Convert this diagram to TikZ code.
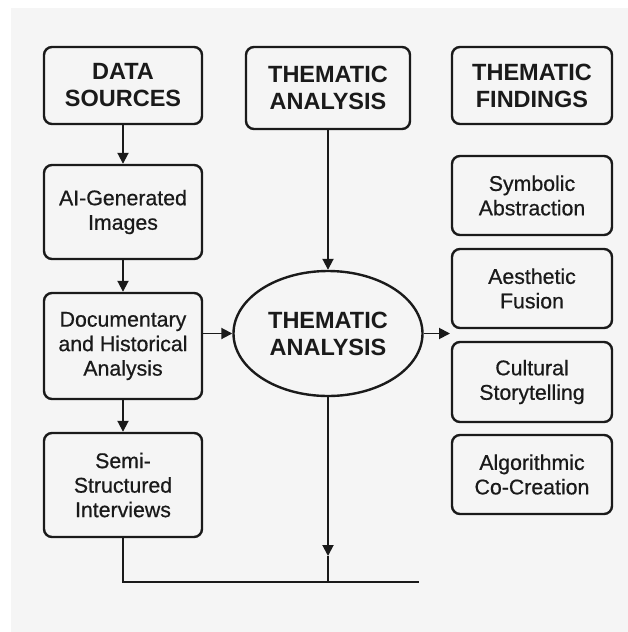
\documentclass[tikz,border=0pt]{standalone}
\usepackage{fontspec}
\setmainfont{Liberation Sans}
\newfontfamily\medfont{Liberation Sans}[FakeBold=0.6]
\usetikzlibrary{arrows.meta,shapes.geometric}
\definecolor{bgc}{HTML}{F5F5F5}
\definecolor{ink}{HTML}{1A1A1A}
\begin{document}
\begin{tikzpicture}[x=1pt,y={(0pt,-1pt)},
  box/.style={draw=ink,line width=2.4pt,rounded corners=8pt,fill=bgc,
    text=ink,align=center,inner sep=0pt,font=\medfont\fontsize{21.3}{24.5}\selectfont},
  head/.style={box,font=\bfseries\fontsize{23.5}{27}\selectfont},
  conn/.style={draw=ink,line width=1.9pt},
  arr/.style={conn,-{Triangle[length=11pt,width=11pt]}}]
\useasboundingbox (0,0) rectangle (628,632);
\fill[white] (0,0) rectangle (628,632);
\fill[bgc] (11,8) rectangle (628,632);
% left column
\node[head,minimum width=158pt,minimum height=77pt] (ds) at (123,85.5) {DATA\\SOURCES};
\node[box,minimum width=158pt,minimum height=94pt] (ai) at (123,212) {AI-Generated\\Images};
\node[box,minimum width=158pt,minimum height=106pt] (doc) at (123,346) {Documentary\\and Historical\\Analysis};
\node[box,minimum width=158pt,minimum height=104pt] (semi) at (123,485) {Semi-\\Structured\\Interviews};
% middle column
\node[head,minimum width=164pt,minimum height=82pt] (ta) at (328,88) {THEMATIC\\ANALYSIS};
\node[draw=ink,line width=2.4pt,ellipse,fill=bgc,text=ink,align=center,inner sep=0pt,
  minimum width=189pt,minimum height=125pt,font=\bfseries\fontsize{23.5}{27}\selectfont]
  (ell) at (328,333.5) {THEMATIC\\ANALYSIS};
% right column
\node[head,minimum width=160pt,minimum height=77pt] (tf) at (532,85.5) {THEMATIC\\FINDINGS};
\node[box,minimum width=160pt,minimum height=79pt] (sym) at (532,195.5) {Symbolic\\Abstraction};
\node[box,minimum width=160pt,minimum height=79pt] (aes) at (532,288.5) {Aesthetic\\Fusion};
\node[box,minimum width=160pt,minimum height=80pt] (cul) at (532,382) {Cultural\\Storytelling};
\node[box,minimum width=160pt,minimum height=79pt] (alg) at (532,474.5) {Algorithmic\\Co-Creation};
% helper coordinates
\coordinate (fout) at (450,333.5);
\coordinate (tipc) at (328,556);
\coordinate (jn) at (328,582);
\coordinate (lend) at (419,582);
% connectors
\draw[arr] (ds) -- (ai);
\draw[arr] (ai) -- (doc);
\draw[arr] (doc) -- (semi);
\draw[arr] (ta) -- (ell);
\draw[arr] (ell.west -| doc.east) -- (ell.west);
\draw[arr] (ell.east) -- (fout);
\draw[arr] (ell.south) -- (tipc);
\draw[conn] (tipc) -- (jn);
\draw[conn] (semi.south) -- (semi.south |- jn) -- (lend);
\end{tikzpicture}
\end{document}
